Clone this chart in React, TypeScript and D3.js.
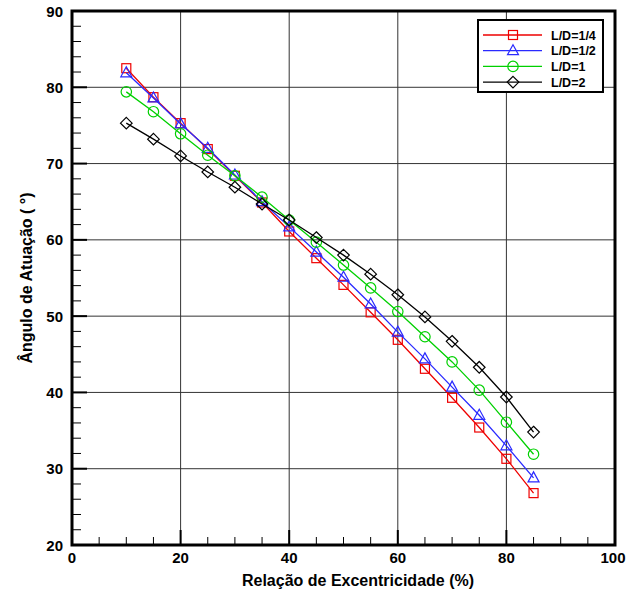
import React from "react";
import * as d3 from "d3";

const xValues = [10, 15, 20, 25, 30, 35, 40, 45, 50, 55, 60, 65, 70, 75, 80, 85];
const ld14 = [82.5, 78.7, 75.3, 71.9, 68.4, 64.9, 61.1, 57.6, 54.1, 50.5, 46.9, 43.1, 39.3, 35.4, 31.3, 26.8];
const ld12 = [81.9, 78.6, 75.2, 72.0, 68.5, 65.0, 61.7, 58.4, 55.1, 51.6, 47.9, 44.4, 40.7, 37.0, 33.0, 28.8];
const ld1 = [79.4, 76.8, 73.9, 71.1, 68.4, 65.6, 62.6, 59.7, 56.7, 53.7, 50.6, 47.3, 44.0, 40.3, 36.1, 31.9];
const ld2 = [75.3, 73.2, 71.0, 68.9, 66.9, 64.7, 62.6, 60.3, 58.0, 55.5, 52.8, 49.9, 46.7, 43.3, 39.4, 34.8];
const seriesNames = ["L/D=1/4", "L/D=1/2", "L/D=1", "L/D=2"];
const xTicks = [0, 20, 40, 60, 80, 100];
const yTicks = [20, 30, 40, 50, 60, 70, 80, 90];

const W = 626, H = 597;
const L = 72, R = 615, T = 11, B = 545;
const FONT = "'Liberation Sans', Arial, Helvetica, sans-serif";

type Shape = "square" | "triangle" | "circle" | "diamond";
const series: { name: string; values: number[]; color: string; shape: Shape }[] = [
  { name: seriesNames[0], values: ld14, color: "#ee0000", shape: "square" },
  { name: seriesNames[1], values: ld12, color: "#2a2aff", shape: "triangle" },
  { name: seriesNames[2], values: ld1, color: "#00d000", shape: "circle" },
  { name: seriesNames[3], values: ld2, color: "#000000", shape: "diamond" },
];

function Marker({ shape, x, y, color }: { shape: Shape; x: number; y: number; color: string }) {
  const sw = 1.2;
  if (shape === "square") return <rect x={x - 4.5} y={y - 4.5} width={9} height={9} fill="none" stroke={color} strokeWidth={sw} />;
  if (shape === "circle") return <circle cx={x} cy={y} r={5.2} fill="none" stroke={color} strokeWidth={sw} />;
  if (shape === "triangle") return <path d={`M${x},${y - 6}L${x + 5.5},${y + 4}L${x - 5.5},${y + 4}Z`} fill="none" stroke={color} strokeWidth={sw} />;
  return <path d={`M${x},${y - 5.8}L${x + 5.8},${y}L${x},${y + 5.8}L${x - 5.8},${y}Z`} fill="none" stroke={color} strokeWidth={sw} />;
}

export default function App() {
  const x = d3.scaleLinear().domain([0, 100]).range([L, R]);
  const y = d3.scaleLinear().domain([20, 90]).range([B, T]);
  const line = d3.line<number>().x((_, i) => x(xValues[i])).y((v) => y(v));
  const xMinor = d3.range(0, 100.01, 5).filter((v) => v % 20 !== 0);
  const yMinor = d3.range(20, 90.01, 2).filter((v) => v % 10 !== 0);

  const lgX = 478, lgY = 20, lgW = 125, lgH = 72;
  return (
    <svg width={W} height={H} style={{ position: "absolute", left: 0, top: 0, background: "#fff" }} fontFamily={FONT}>
      <rect x={0} y={0} width={W} height={H} fill="#fff" />
      {/* grid */}
      {xTicks.slice(1, -1).map((t) => (
        <line key={"gx" + t} x1={x(t)} x2={x(t)} y1={T} y2={B} stroke="#333" strokeWidth={1} />
      ))}
      {yTicks.slice(1, -1).map((t) => (
        <line key={"gy" + t} x1={L} x2={R} y1={y(t)} y2={y(t)} stroke="#333" strokeWidth={1} />
      ))}
      {/* minor ticks */}
      {xMinor.map((t) => (
        <line key={"xm" + t} x1={x(t)} x2={x(t)} y1={B} y2={B - 8} stroke="#000" strokeWidth={1} />
      ))}
      {yMinor.map((t) => (
        <line key={"ym" + t} x1={L} x2={L + 9} y1={y(t)} y2={y(t)} stroke="#000" strokeWidth={1} />
      ))}
      {/* major ticks */}
      {xTicks.map((t) => (
        <line key={"xM" + t} x1={x(t)} x2={x(t)} y1={B} y2={B - 15} stroke="#000" strokeWidth={2} />
      ))}
      {yTicks.map((t) => (
        <line key={"yM" + t} x1={L} x2={L + 15} y1={y(t)} y2={y(t)} stroke="#000" strokeWidth={2} />
      ))}
      {/* series */}
      {series.map((s) => (
        <g key={s.name}>
          <path d={line(s.values) || ""} fill="none" stroke={s.color} strokeWidth={1.3} />
          {s.values.map((v, i) => (
            <Marker key={i} shape={s.shape} x={x(xValues[i])} y={y(v)} color={s.color} />
          ))}
        </g>
      ))}
      {/* frame */}
      <rect x={L} y={T} width={R - L} height={B - T} fill="none" stroke="#000" strokeWidth={3} />
      {/* tick labels */}
      {xTicks.map((t) => (
        <text key={"xl" + t} x={t === 100 ? x(t) - 2 : x(t)} y={B + 18} textAnchor="middle" fontSize={15} fontWeight="bold">{t}</text>
      ))}
      {yTicks.map((t) => (
        <text key={"yl" + t} x={L - 9} y={y(t) + 5.5} textAnchor="end" fontSize={15} fontWeight="bold">{t}</text>
      ))}
      {/* axis titles */}
      <text x={358} y={586} textAnchor="middle" fontSize={16} fontWeight="bold">Relação de Excentricidade (%)</text>
      <text transform={`translate(32,${(T + B) / 2}) rotate(-90)`} textAnchor="middle" fontSize={16} fontWeight="bold">Ângulo de Atuação ( °)</text>
      {/* legend */}
      <rect x={lgX} y={lgY} width={lgW} height={lgH} fill="#fff" stroke="#000" strokeWidth={2} />
      {series.map((s, i) => {
        const ly = lgY + 15 + i * 15.7;
        return (
          <g key={"lg" + s.name}>
            <line x1={483} x2={542} y1={ly} y2={ly} stroke={s.color} strokeWidth={1.3} />
            <Marker shape={s.shape} x={513} y={ly} color={s.color} />
            <text x={551} y={ly + 4.5} fontSize={12.5} fontWeight="bold">{s.name}</text>
          </g>
        );
      })}
    </svg>
  );
}
